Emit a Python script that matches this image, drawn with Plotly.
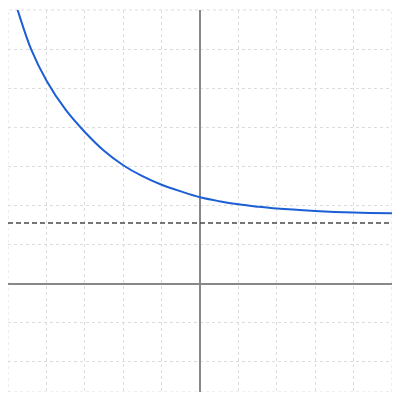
import plotly.graph_objects as go

# curve values
curve_x = [-4.8, -4.75, -4.4, -4.0, -3.5, -3.0, -2.5, -2.0, -1.5, -1.0, -0.5, 0.0, 0.5, 1.0, 1.5, 2.0, 3.0, 4.0, 5.0]
curve_y = [7.15, 7.0, 6.0, 5.2, 4.45, 3.88, 3.40, 3.03, 2.75, 2.53, 2.36, 2.21, 2.11, 2.03, 1.97, 1.92, 1.86, 1.82, 1.80]

asymptote_y = 1.55
x_range = [-5, 5]
y_range = [-2.77, 7]

fig = go.Figure()

fig.add_trace(go.Scatter(x=curve_x, y=curve_y, mode='lines',
                         line=dict(color='#1c5fd4', width=2, shape='spline'),
                         hoverinfo='skip'))

# dashed horizontal line
fig.add_shape(type='line', xref='paper', yref='y', x0=0, x1=1,
              y0=asymptote_y, y1=asymptote_y,
              line=dict(color='#4a4a4a', width=1.5, dash='5px,3px'))

# dotted border round the plot area
fig.add_shape(type='rect', xref='paper', yref='paper', x0=0, x1=1, y0=0, y1=1,
              line=dict(color='#dddddd', width=1, dash='dot'), layer='below')

axis_style = dict(showgrid=True, gridcolor='#dddddd', gridwidth=1, griddash='dot',
                  dtick=1, showticklabels=False, ticks='',
                  zeroline=True, zerolinecolor='#888888', zerolinewidth=1.5,
                  showline=False, fixedrange=True)

fig.update_xaxes(range=x_range, **axis_style)
fig.update_yaxes(range=y_range, **axis_style)

# page body adds 8px, so the figure sits at 8..392
fig.update_layout(width=384, height=384, showlegend=False,
                  margin=dict(l=0, r=0, t=2, b=0),
                  paper_bgcolor='white', plot_bgcolor='white')

fig.write_html("out.html")
